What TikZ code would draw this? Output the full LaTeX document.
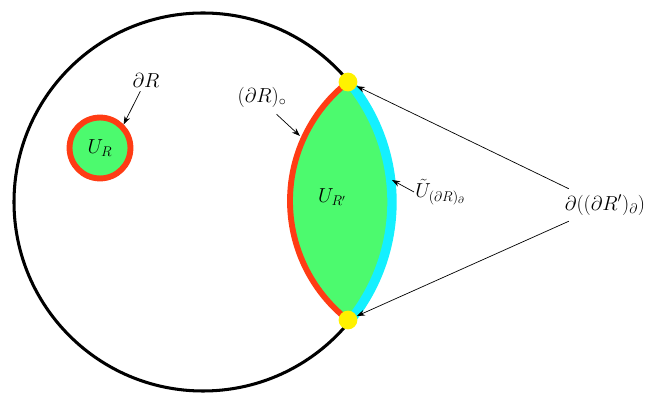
\documentclass[tikz,border=0pt]{standalone}
\usepackage{amsmath,amssymb}
\usetikzlibrary{arrows.meta}
\definecolor{lgreen}{RGB}{76,250,110}
\definecolor{lred}{RGB}{255,60,20}
\definecolor{lcyan}{RGB}{20,240,255}
\begin{document}
\begin{tikzpicture}[x=0.03cm,y=-0.03cm,
  lbl/.style={font=\fontsize{17}{19}\selectfont},
  dot/.style={circle,fill=yellow,minimum size=16pt,inner sep=0},
  arr/.style={-{Stealth[length=7pt,width=5pt]},line width=0.6pt}]
\useasboundingbox (0,0) rectangle (665,405);
\draw[line width=2.6pt] (203,202) circle[radius=189];
\fill[lgreen] (441,201) ++(232:151) arc[start angle=232,end angle=128,radius=151] arc[start angle=39,end angle=-39,radius=189] -- cycle;
\draw[line width=8pt,lcyan] (203,202) ++(39:189) arc[start angle=39,end angle=-39,radius=189];
\draw[line width=5pt,lred] (441,201) ++(232:151) arc[start angle=232,end angle=128,radius=151];
\node[dot] (y1) at (348,82) {};
\node[dot] (y2) at (348,320) {};
\node[circle,draw=lred,line width=5pt,fill=lgreen,minimum size=52pt,inner sep=0] (s) at (100,148) {};
\node[lbl] (UR) at (100,148) {$U_R$};
\node[lbl] (dR) at (146,80) {$\partial R$};
\draw[arr] (dR) -- (s.north east);
\node[lbl] (UR2) at (332,197) {$U_{R'}$};
\node[lbl] (dRo) at (262,97) {$(\partial R)_\circ$};
\coordinate (a1) at (300,136);
\draw[arr] (dRo.south east) ++(-14,3) -- (a1);
\node[lbl,anchor=west,inner sep=1pt] (Ut) at (414,192) {$\tilde{U}_{(\partial R)_\partial}$};
\coordinate (a2) at (392,180);
\draw[arr] (Ut.west) -- (a2);
\node[lbl] (dd) at (605,205) {$\partial((\partial R')_\partial)$};
\draw[arr] (dd.north west) ++(8,-2) -- (y1);
\draw[arr] (dd.south west) ++(8,2) -- (y2);
\end{tikzpicture}
\end{document}
